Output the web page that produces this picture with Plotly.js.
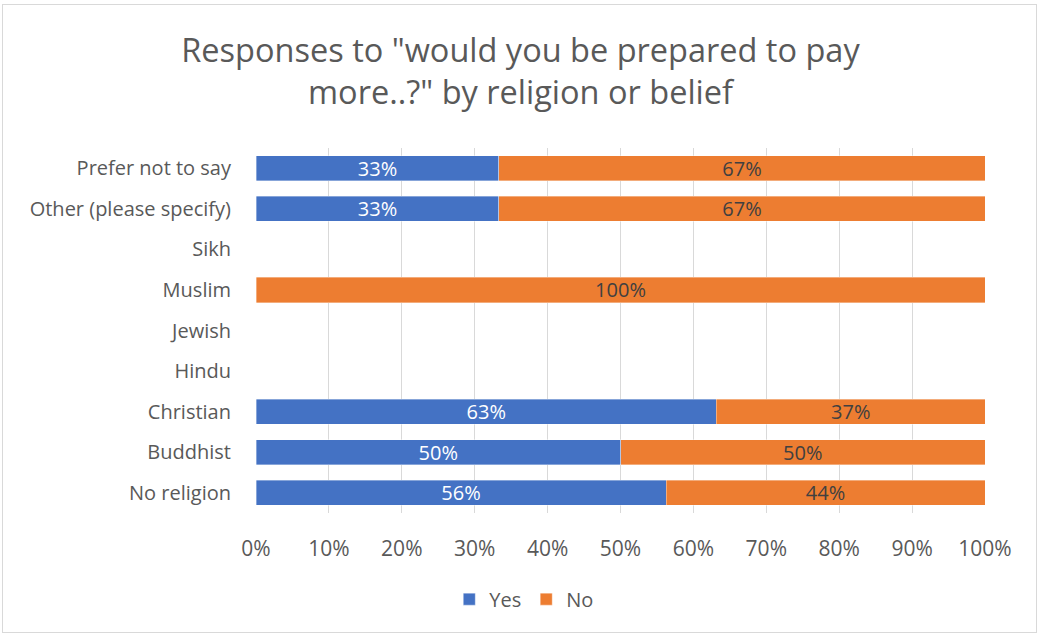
<!DOCTYPE html>
<html>
<head>
<meta charset="utf-8">
<script src="https://cdn.plot.ly/plotly-3.0.1.min.js"></script>
<style>
html,body{margin:0;padding:0;background:#fff;}
#frame{position:absolute;left:2px;top:4px;width:1035px;height:629px;border:1px solid #d9d9d9;box-sizing:border-box;pointer-events:none;z-index:10;}
#chart{width:1041px;height:637px;}
</style>
</head>
<body>
<div id="frame"></div>
<div id="chart"></div>
<script>
const categories = ["No religion","Buddhist","Christian","Hindu","Jewish","Muslim","Sikh","Other (please specify)","Prefer not to say"];
const yesValues = [56.25, 50, 63.16, 0, 0, 0, 0, 33.33, 33.33];
const noValues  = [43.75, 50, 36.84, 0, 0, 100, 0, 66.67, 66.67];
const tickVals = [0,10,20,30,40,50,60,70,80,90,100];
const tickLabels = ["0%","10%","20%","30%","40%","50%","60%","70%","80%","90%","100%"];

const fontFam = "'Open Sans', sans-serif";
const lbl = v => v > 0 ? Math.round(v) + "%" : "";

const traces = [
  {type:"bar", orientation:"h", name:"Yes", y:categories, x:yesValues,
   marker:{color:"#4472c4", line:{color:"rgba(255,255,255,0.6)", width:0.6}},
   text:yesValues.map(lbl), textposition:"inside", constraintext:"none",
   insidetextanchor:"middle", textfont:{color:"#ffffff", size:20, family:fontFam},
   hoverinfo:"none", cliponaxis:false},
  {type:"bar", orientation:"h", name:"No", y:categories, x:noValues,
   marker:{color:"#ed7d31", line:{color:"rgba(255,255,255,0.6)", width:0.6}},
   text:noValues.map(lbl), textposition:"inside", constraintext:"none",
   insidetextanchor:"middle", textfont:{color:"#404040", size:20, family:fontFam},
   hoverinfo:"none", cliponaxis:false}
];

const layout = {
  width:1041, height:637,
  margin:{l:256, r:56, t:148, b:124, autoexpand:false},
  barmode:"stack", bargap:0.38,
  paper_bgcolor:"#ffffff", plot_bgcolor:"#ffffff",
  font:{family:fontFam, color:"#595959", size:18},
  title:{text:'Responses to "would you be prepared to pay<br>more..?" by religion or belief',
    x:0.5, xanchor:"center", y:0.903, yanchor:"middle",
    font:{size:32.5, color:"#595959", family:fontFam}},
  xaxis:{range:[0,100], tickvals:tickVals, ticktext:tickLabels, tickangle:0,
    showgrid:true, gridcolor:"#d9d9d9", gridwidth:1, zeroline:false,
    showline:false, ticks:"outside", ticklen:17, tickcolor:"rgba(0,0,0,0)",
    tickfont:{size:21, color:"#595959", family:fontFam}, fixedrange:true},
  yaxis:{type:"category", categoryorder:"array", categoryarray:categories,
    showgrid:false, zeroline:false, showline:false,
    ticks:"outside", ticklen:20, tickcolor:"rgba(0,0,0,0)",
    tickfont:{size:20, color:"#595959", family:fontFam}, fixedrange:true},
  showlegend:true,
  legend:{orientation:"h", x:0.368, xanchor:"center", y:-0.236, yanchor:"middle",
    font:{size:20, color:"#595959", family:fontFam}, traceorder:"normal", itemwidth:30}
};

Plotly.newPlot("chart", traces, layout, {displayModeBar:false, staticPlot:true});
</script>
</body>
</html>
